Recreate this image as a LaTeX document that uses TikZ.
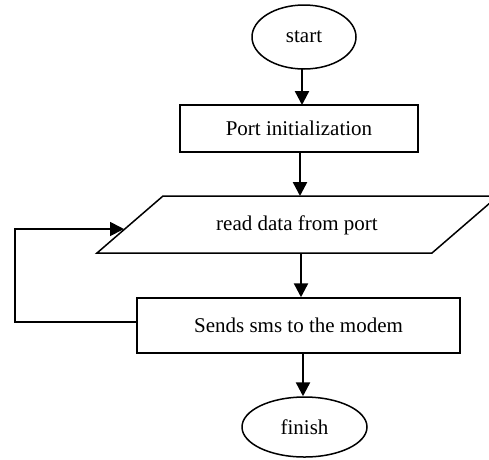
\documentclass[tikz,border=0pt]{standalone}
\usepackage{fontspec}
\setmainfont{Liberation Serif}
\usetikzlibrary{arrows.meta,shapes.geometric}
\begin{document}
\begin{tikzpicture}[x=1pt,y=-1pt,
  lbl/.style={font=\fontsize{21}{25}\selectfont},
  box/.style={draw, line width=1.5pt, inner sep=0pt, lbl},
  oval/.style={draw, ellipse, line width=1.5pt, inner sep=0pt, lbl},
  arr/.style={line width=2.4pt, -{Triangle[length=14pt,width=14pt]}},
  loopline/.style={line width=1.8pt, -{Triangle[length=14pt,width=14pt]}}]
\useasboundingbox (0,0) rectangle (489,459);
\fill[white] (0,0) rectangle (489,459);
% nodes
\node[oval, minimum width=104pt, minimum height=64pt] (start) at (304,37) {start};
\node[box, minimum width=238pt, minimum height=47pt] (init) at (299,128.5) {Port initialization};
\coordinate (pTL) at (163,196);
\coordinate (pTR) at (498,196);
\coordinate (pBR) at (432,253);
\coordinate (pBL) at (97,253);
\draw[line width=1.5pt, line join=miter] (pTL) -- (pTR) -- (pBR) -- (pBL) -- cycle;
\node[lbl] (read) at (297,225) {read data from port};
\coordinate (readTop) at (300,196);
\coordinate (readBot) at (301,253);
\coordinate (readLeft) at (124,229);
\node[box, minimum width=323pt, minimum height=55pt] (send) at (298.5,325.5) {Sends sms to the modem};
\node[oval, minimum width=125pt, minimum height=60pt] (finish) at (304.5,427) {finish};
% connectors
\draw[arr] (302,69) -- (302,105);
\draw[arr] (init.south -| readTop) -- (readTop);
\draw[arr] (readBot) -- (readBot |- send.north);
\draw[arr] (send.south -| 303,0) -- (finish.north -| 303,0);
\coordinate (lb) at (15,322);
\coordinate (lt) at (15,229);
\draw[loopline, line join=miter] (send.west |- lb) -- (lb) -- (lt) -- (readLeft);
\end{tikzpicture}
\end{document}
